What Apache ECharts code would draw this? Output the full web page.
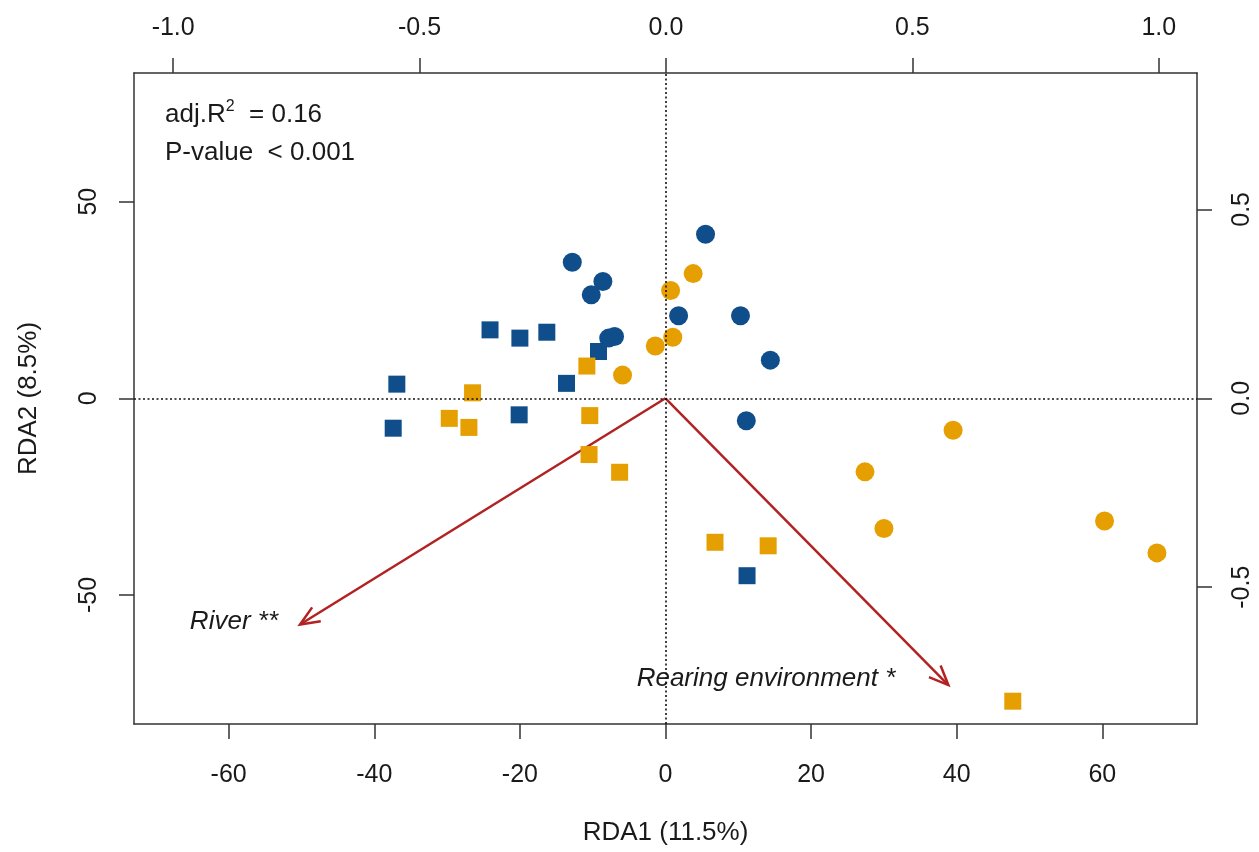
<!DOCTYPE html>
<html>
<head>
<meta charset="utf-8">
<script src="https://cdn.jsdelivr.net/npm/echarts@6/dist/echarts.min.js"></script>
<style>
  html, body { margin: 0; padding: 0; background: #fff; }
  #chart { width: 1259px; height: 852px; }
</style>
</head>
<body>
<div id="chart"></div>
<script>
// RDA scores (site scores, scaling on bottom/left axes)
const blueCircles = [
  [-12.8, 34.6], [-8.6, 29.7], [-10.2, 26.3], [5.5, 41.7], [1.8, 21.0],
  [10.3, 21.0], [14.4, 9.7], [11.1, -5.7], [-7.8, 15.3], [-7.0, 15.7]
];
const blueSquares = [
  [-24.1, 17.4], [-20.0, 15.3], [-16.3, 16.8], [-9.2, 11.9], [-13.6, 3.8],
  [-36.9, 3.6], [-37.4, -7.6], [-20.1, -4.2], [11.2, -45.1]
];
const orangeCircles = [
  [0.7, 27.4], [3.8, 31.7], [1.0, 15.5], [-1.4, 13.3], [-5.9, 5.9],
  [39.5, -8.1], [27.4, -18.7], [30.0, -33.1], [60.3, -31.2], [67.5, -39.3]
];
const orangeSquares = [
  [-26.5, 1.4], [-29.7, -5.1], [-27.0, -7.4], [-10.8, 8.2], [-10.4, -4.4],
  [-10.5, -14.3], [-6.3, -18.8], [6.8, -36.6], [14.1, -37.5], [47.7, -77.0]
];

// explanatory variable arrows (tips in RDA1/RDA2 units)
const arrowNames = ["River **", "Rearing environment *"];
const arrowX = [-50.2, 38.85];
const arrowY = [-57.5, -72.9];

// tick values
const bottomTicks = [-60, -40, -20, 0, 20, 40, 60];
const leftTicks = [-50, 0, 50];
const topTicks = [-1.0, -0.5, 0.0, 0.5, 1.0];
const rightTicks = [-0.5, 0.0, 0.5];

const FONT = "'Liberation Sans', Arial, sans-serif";
const TXT = "#1a1a1a";
const BLUE = "#104E8B";
const ORANGE = "#E69F00";
const ARROW = "#B22222";

const axisLineStyle = { color: "#333", width: 1.5 };
const labelStyle = { fontSize: 25, color: TXT, fontFamily: FONT };
const nameStyle = { fontSize: 26, color: TXT, fontFamily: FONT };

// label placement relative to each arrow tip (px)
const labelOffset = [[-22, -3], [-53, -6]];

let myChart = echarts.init(document.getElementById("chart"));
myChart.setOption({
  animation: false,
  backgroundColor: "#fff",
  grid: { left: 134, right: 62, top: 73, bottom: 128 },
  xAxis: [
    {
      type: "value",
      position: "bottom",
      min: -73,
      max: 73,
      axisLine: { show: true, onZero: false, lineStyle: axisLineStyle },
      axisTick: { show: true, length: 15, customValues: bottomTicks, lineStyle: axisLineStyle },
      axisLabel: Object.assign({ customValues: bottomTicks, margin: 39 }, labelStyle),
      splitLine: { show: false },
      name: "RDA1 (11.5%)",
      nameLocation: "middle",
      nameGap: 96,
      nameTextStyle: nameStyle,
    },
    {
      type: "value",
      position: "top",
      min: -1.0795,
      max: 1.0776,
      axisLine: { show: true, onZero: false, lineStyle: axisLineStyle },
      axisTick: { show: true, length: 15, customValues: topTicks, lineStyle: axisLineStyle },
      axisLabel: Object.assign({
        customValues: topTicks,
        margin: 32,
        formatter: (v) => v.toFixed(1),
      }, labelStyle),
      splitLine: { show: false },
    },
  ],
  yAxis: [
    {
      type: "value",
      position: "left",
      min: -82.8,
      max: 82.7,
      axisLine: { show: true, onZero: false, lineStyle: axisLineStyle },
      axisTick: { show: true, length: 15, customValues: leftTicks, lineStyle: axisLineStyle },
      axisLabel: Object.assign({ customValues: leftTicks, margin: 32, rotate: 90 }, labelStyle),
      splitLine: { show: false },
      name: "RDA2 (8.5%)",
      nameLocation: "middle",
      nameGap: 92,
      nameTextStyle: nameStyle,
    },
    {
      type: "value",
      position: "right",
      min: -0.862,
      max: 0.861,
      axisLine: { show: true, onZero: false, lineStyle: axisLineStyle },
      axisTick: { show: true, length: 15, customValues: rightTicks, lineStyle: axisLineStyle },
      axisLabel: Object.assign({
        customValues: rightTicks,
        margin: 33,
        rotate: 90,
        formatter: (v) => v.toFixed(1),
      }, labelStyle),
      splitLine: { show: false },
    },
  ],
  graphic: [
    {
      type: "text",
      x: 165,
      y: 115,
      style: {
        text: "{n|adj.R}{s|2}{n|  = 0.16}",
        verticalAlign: "middle",
        rich: {
          n: { fontSize: 26, lineHeight: 32, fontFamily: FONT, fill: TXT, verticalAlign: "middle" },
          s: { fontSize: 16, lineHeight: 16, fontFamily: FONT, fill: TXT, verticalAlign: "top" },
        },
      },
    },
    {
      type: "text",
      x: 165,
      y: 153,
      style: {
        text: "P-value  < 0.001",
        font: "26px " + FONT,
        fill: TXT,
        verticalAlign: "middle",
      },
    },
  ],
  series: [
    {
      type: "scatter",
      name: "blue squares",
      symbol: "rect",
      symbolSize: 17,
      itemStyle: { color: BLUE, opacity: 1 },
      data: blueSquares,
      markLine: {
        silent: true,
        symbol: "none",
        label: { show: false },
        lineStyle: { color: "#111", width: 1.6, type: [2, 2.5] },
        data: [{ xAxis: 0 }, { yAxis: 0 }],
      },
    },
    {
      type: "scatter",
      name: "orange squares",
      symbol: "rect",
      symbolSize: 17,
      itemStyle: { color: ORANGE, opacity: 1 },
      data: orangeSquares,
    },
    {
      type: "scatter",
      name: "blue circles",
      symbol: "circle",
      symbolSize: 19,
      itemStyle: { color: BLUE, opacity: 1 },
      data: blueCircles,
    },
    {
      type: "scatter",
      name: "orange circles",
      symbol: "circle",
      symbolSize: 19,
      itemStyle: { color: ORANGE, opacity: 1 },
      data: orangeCircles,
    },
    {
      type: "custom",
      name: "arrows",
      silent: true,
      clip: false,
      data: arrowX.map((x, i) => [x, arrowY[i]]),
      encode: { x: 0, y: 1 },
      renderItem: function (params, api) {
        let o = api.coord([0, 0]);
        let t = api.coord([api.value(0), api.value(1)]);
        let a = Math.atan2(t[1] - o[1], t[0] - o[0]);
        let h = 21, w = 0.4;
        let p1 = [t[0] - h * Math.cos(a - w), t[1] - h * Math.sin(a - w)];
        let p2 = [t[0] - h * Math.cos(a + w), t[1] - h * Math.sin(a + w)];
        let off = labelOffset[params.dataIndex];
        return {
          type: "group",
          children: [
            {
              type: "line",
              shape: { x1: o[0], y1: o[1], x2: t[0], y2: t[1] },
              style: { stroke: ARROW, lineWidth: 2.5 },
            },
            {
              type: "polyline",
              shape: { points: [p1, t, p2] },
              style: { stroke: ARROW, lineWidth: 2.5, fill: null },
            },
            {
              type: "text",
              x: t[0] + off[0],
              y: t[1] + off[1],
              style: {
                text: arrowNames[params.dataIndex],
                font: "italic 26px " + FONT,
                fill: TXT,
                align: "right",
                verticalAlign: "middle",
              },
            },
          ],
        };
      },
    },
  ],
});
</script>
</body>
</html>
